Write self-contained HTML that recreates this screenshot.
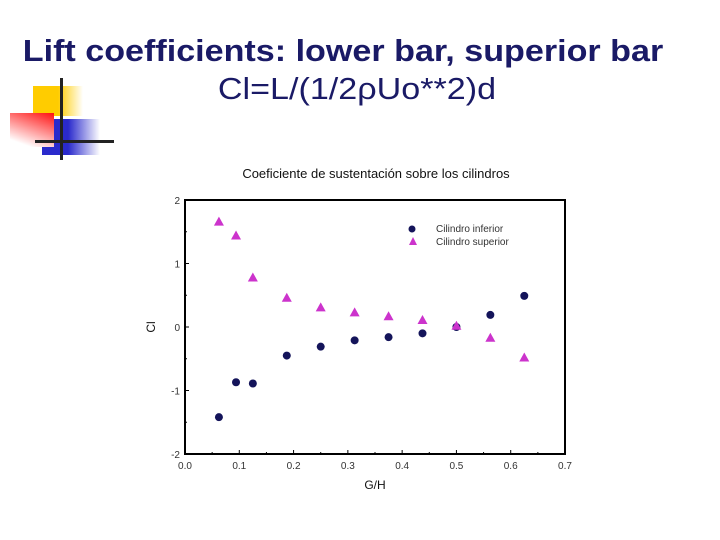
<!DOCTYPE html>
<html><head><meta charset="utf-8"><style>
body{margin:0;width:720px;height:540px;background:#fff;position:relative;overflow:hidden;font-family:"Liberation Sans",sans-serif}
.t{position:absolute;width:720px;text-align:center;transform-origin:360px 0}
</style></head><body>
<div class="t" style="top:33px;left:-17px;font-size:31px;font-weight:bold;color:#1a1a66;transform:scaleX(1.1)">Lift coefficients: lower bar, superior bar</div>
<div class="t" style="top:71px;left:-3px;font-size:31px;color:#1a1a66;transform:scaleX(1.1)">Cl=L/(1/2ρUo**2)d</div>
<div>
<div style="position:absolute;left:33px;top:86px;width:50px;height:30px;background:linear-gradient(90deg,#ffcc00 50%,#fff)"></div>
<div style="position:absolute;left:42px;top:119px;width:58px;height:36px;background:linear-gradient(90deg,#2a2acc 45%,#fff)"></div>
<div style="position:absolute;left:10px;top:113px;width:44px;height:34px;background:linear-gradient(200deg,#ff1010,#fff 85%)"></div>
<div style="position:absolute;left:60px;top:78px;width:3px;height:82px;background:#222"></div>
<div style="position:absolute;left:35px;top:140px;width:79px;height:3px;background:#222"></div>
</div>
<svg id="c" width="720" height="540" style="position:absolute;left:0;top:0"></svg>
<script>
const xs=[0.0625,0.094,0.125,0.1875,0.25,0.3125,0.375,0.4375,0.5,0.5625,0.625];
const lower=[-1.42,-0.87,-0.89,-0.45,-0.31,-0.21,-0.16,-0.1,0,0.19,0.49];
const upper=[1.66,1.44,0.78,0.46,0.31,0.23,0.17,0.11,0.02,-0.17,-0.48];
const xTicks=["0.0","0.1","0.2","0.3","0.4","0.5","0.6","0.7"];
const yTicks=["2","1","0","-1","-2"];
const L=185,R=565,T=200,B=454;
const X=v=>L+v/0.7*(R-L), Y=v=>T+(2-v)/4*(B-T);
const s=document.getElementById('c');const NS="http://www.w3.org/2000/svg";
function mk(t,a,p){const e=document.createElementNS(NS,t);for(const k in a)e.setAttribute(k,a[k]);(p||s).appendChild(e);return e;}
let e;
e=mk('text',{x:376,y:178,'font-size':13,'text-anchor':'middle',fill:'#111','font-family':'Liberation Sans'});e.textContent='Coeficiente de sustentación sobre los cilindros';


e=mk('rect',{x:L,y:T,width:R-L,height:B-T,fill:'none',stroke:'#000','stroke-width':2});


xTicks.forEach((t,i)=>{const v=i*0.1;mk('line',{x1:X(v),x2:X(v),y1:B,y2:B-4,stroke:'#000'});if(i<7)mk('line',{x1:X(v+0.05),x2:X(v+0.05),y1:B,y2:B-2,stroke:'#000'});
e=mk('text',{x:X(v),y:B+15,'font-size':10,'text-anchor':'middle',fill:'#333'});e.textContent=t;

});
yTicks.forEach(t=>{const v=+t;mk('line',{x1:L,x2:L+4,y1:Y(v),y2:Y(v),stroke:'#000'});if(v>-2)mk('line',{x1:L,x2:L+2,y1:Y(v-0.5),y2:Y(v-0.5),stroke:'#000'});
e=mk('text',{x:L-5,y:Y(v)+4,'font-size':10,'text-anchor':'end',fill:'#333'});e.textContent=t;

});
e=mk('text',{x:375,y:489,'font-size':12,'text-anchor':'middle',fill:'#111'});e.textContent='G/H';


e=mk('text',{x:155,y:327,'font-size':12,'text-anchor':'middle',fill:'#111',transform:'rotate(-90 155 327)'});e.textContent='Cl';


xs.forEach((x,i)=>{
e=mk('circle',{cx:X(x),cy:Y(lower[i]),r:4,fill:'#14145a'});


const cx=X(x),cy=Y(upper[i]);
e=mk('polygon',{points:`${cx},${cy-5} ${cx-5},${cy+4} ${cx+5},${cy+4}`,fill:'#cc33cc'});


});
e=mk('circle',{cx:412,cy:229,r:3.5,fill:'#14145a'});


e=mk('polygon',{points:'413,237 409,245 417,245',fill:'#cc33cc'});


e=mk('text',{x:436,y:232,'font-size':10,fill:'#333'});e.textContent='Cilindro inferior';


e=mk('text',{x:436,y:245,'font-size':10,fill:'#333'});e.textContent='Cilindro superior';


</script>
</body></html>
